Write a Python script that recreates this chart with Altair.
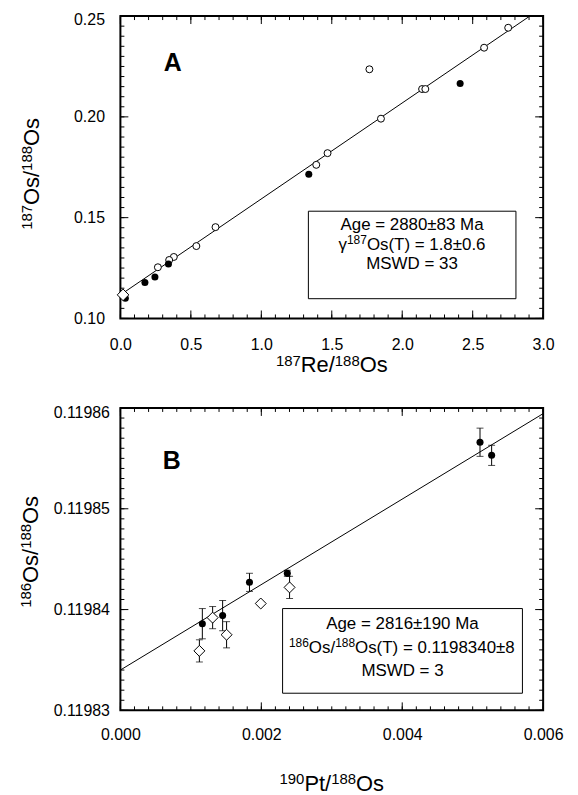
import altair as alt
import pandas as pd

FONT = "Liberation Sans"

# ---------------- Panel A data ----------------
a_open_x = [2.752, 2.581, 1.767, 2.141, 2.164, 1.849, 1.470, 1.390, 0.675, 0.539, 0.379, 0.346, 0.266]
a_open_y = [0.2442, 0.2343, 0.2236, 0.2138, 0.2138, 0.1991, 0.1820, 0.1762, 0.1453, 0.1359, 0.1305, 0.1290, 0.1254]
a_fill_x = [2.411, 1.337, 0.341, 0.245, 0.174, 0.035]
a_fill_y = [0.2166, 0.1715, 0.1270, 0.1206, 0.1178, 0.1100]
a_dia_x = [0.019]
a_dia_y = [0.1117]
a_intercept = 0.1117
a_slope = 0.0476
a_xdom = [0.0, 3.0]
a_ydom = [0.10, 0.25]
a_x_major = [0.0, 0.5, 1.0, 1.5, 2.0, 2.5, 3.0]
a_x_minor = [round(i * 0.1, 4) for i in range(31)]
a_y_major = [0.10, 0.15, 0.20, 0.25]
a_y_minor = [round(0.10 + i * 0.005, 4) for i in range(31)]
a_box = [1.334, 2.807, 0.1098, 0.1532]
a_text = [[("Age = 2880±83 Ma", False)],
          [("γ", False), ("187", True), ("Os(T) = 1.8±0.6", False)],
          [("MSWD = 33", False)]]
a_text_x = [2.07, 2.07, 2.07]
a_text_y = [0.1466, 0.1369, 0.1276]
a_label = ["A"]
a_label_x = [0.372]
a_label_y = [0.2265]
a_xtitle = [("187", True), ("Re/", False), ("188", True), ("Os", False)]
a_ytitle = [("187", True), ("Os/", False), ("188", True), ("Os", False)]

# ---------------- Panel B data ----------------
b_fill_x = [0.005104, 0.005269, 0.002369, 0.001832, 0.001451, 0.001163]
b_fill_y = [0.1198566, 0.1198553, 0.1198436, 0.1198427, 0.1198394, 0.1198386]
b_fill_err = [0.0000014, 0.0000010, 0.0000003, 0.0000009, 0.0000015, 0.0000015]
b_dia_x = [0.002401, 0.001992, 0.001309, 0.001507, 0.001121]
b_dia_y = [0.1198422, 0.1198406, 0.1198392, 0.1198375, 0.1198359]
b_dia_err = [0.0000011, 0.0, 0.0000011, 0.0000013, 0.0000011]
b_intercept = 0.1198340
b_slope = 0.00424
b_xdom = [0.0, 0.006]
b_ydom = [0.11983, 0.11986]
b_x_major = [0.0, 0.002, 0.004, 0.006]
b_x_minor = [round(i * 0.0002, 6) for i in range(31)]
b_y_major = [0.11983, 0.11984, 0.11985, 0.11986]
b_y_minor = [round(0.11983 + i * 0.000001, 7) for i in range(31)]
b_box = [0.002302, 0.005706, 0.1198317, 0.1198401]
b_text = [[("Age = 2816±190 Ma", False)],
          [("186", True), ("Os/", False), ("188", True), ("Os(T) = 0.1198340±8", False)],
          [("MSWD = 3", False)]]
b_text_x = [0.004004, 0.004004, 0.004004]
b_text_y = [0.1198387, 0.1198363, 0.1198340]
b_label = ["B"]
b_label_x = [0.00073]
b_label_y = [0.1198547]
b_xtitle = [("190", True), ("Pt/", False), ("188", True), ("Os", False)]
b_ytitle = [("186", True), ("Os/", False), ("188", True), ("Os", False)]

W, H = 425, 304
MAIN, SUP, RAISE = 22, 15, 6.5
LMAIN, LSUP, LRAISE = 17, 12, 6
ADV = {"0": .556, "1": .556, "2": .556, "3": .556, "4": .556, "5": .556, "6": .556,
       "7": .556, "8": .556, "9": .556, "R": .722, "e": .556, "/": .278, "O": .778,
       "s": .5, "P": .667, "t": .278, "γ": .5, "(": .333, ")": .333, "T": .611,
       " ": .278, "=": .584, ".": .278, "±": .549, "A": .667, "g": .556, "M": .833,
       "a": .556, "S": .667, "W": .944, "D": .722}


def piece_widths(parts, main, sup):
    sizes = [sup if s else main for _, s in parts]
    widths = [sum(ADV.get(c, .556) for c in t) * sz for (t, _), sz in zip(parts, sizes)]
    return sizes, widths


def title_layers(parts, center, base, vertical):
    sizes, widths = piece_widths(parts, MAIN, SUP)
    total = sum(widths)
    out = []
    off = 0.0
    for (t, sup), sz, w in zip(parts, sizes, widths):
        r = RAISE if sup else 0.0
        if vertical:
            mk = alt.Chart(pd.DataFrame({"t": [t]})).mark_text(
                font=FONT, fontSize=sz, color="black", align="left", baseline="alphabetic", angle=270)
            out.append(mk.encode(text="t:N", x=alt.value(base - r), y=alt.value(center + total / 2 - off)))
        else:
            mk = alt.Chart(pd.DataFrame({"t": [t]})).mark_text(
                font=FONT, fontSize=sz, color="black", align="left", baseline="alphabetic")
            out.append(mk.encode(text="t:N", x=alt.value(center - total / 2 + off), y=alt.value(base - r)))
        off += w
    return out


def legend_layers(lines, xs_, ys_, X, Y):
    out = []
    for parts, xv, yv in zip(lines, xs_, ys_):
        sizes, widths = piece_widths(parts, LMAIN, LSUP)
        total = sum(widths)
        off = 0.0
        for (t, sup), sz, w in zip(parts, sizes, widths):
            dy = (6 - LRAISE) if sup else 6
            d = pd.DataFrame({"t": [t], "x": [xv], "y": [yv]})
            out.append(alt.Chart(d).mark_text(font=FONT, fontSize=sz, color="black", align="left",
                                              baseline="alphabetic", dx=-total / 2 + off, dy=dy)
                       .encode(x=X("x"), y=Y("y"), text="t:N"))
            off += w
    return out


def tick_layers(X, Y, xmaj, xmin, ymaj, ymin):
    out = []
    for vals, L in [(xmin, 4), (xmaj, 8)]:
        d = pd.DataFrame({"v": vals})
        out.append(alt.Chart(d).mark_rule(color="black", strokeWidth=1)
                   .encode(x=X("v"), y=alt.value(H), y2=alt.value(H - L)))
        out.append(alt.Chart(d).mark_rule(color="black", strokeWidth=1)
                   .encode(x=X("v"), y=alt.value(0), y2=alt.value(L)))
    for vals, L in [(ymin, 4), (ymaj, 8)]:
        d = pd.DataFrame({"v": vals})
        out.append(alt.Chart(d).mark_rule(color="black", strokeWidth=1)
                   .encode(y=Y("v"), x=alt.value(0), x2=alt.value(L)))
        out.append(alt.Chart(d).mark_rule(color="black", strokeWidth=1)
                   .encode(y=Y("v"), x=alt.value(W), x2=alt.value(W - L)))
    return out


def panel(xdom, ydom, xaxis, yaxis, intercept, slope, fills, opens, dias,
          box, texts, tx, ty, lab, lx, ly, xmaj, xmin, ymaj, ymin, dia_size,
          xtitle, xt_base, ytitle, yt_center, yt_base, errs=None):
    xs = alt.Scale(domain=xdom, zero=False, nice=False)
    ys = alt.Scale(domain=ydom, zero=False, nice=False)
    X = lambda f: alt.X(f + ":Q", scale=xs, axis=xaxis)
    Y = lambda f: alt.Y(f + ":Q", scale=ys, axis=yaxis)
    # regression line
    x_end = min(xdom[1], (ydom[1] - intercept) / slope)
    line_df = pd.DataFrame({"x": [xdom[0], x_end],
                            "y": [intercept + slope * xdom[0], intercept + slope * x_end]})
    layers = [alt.Chart(line_df).mark_line(color="black", strokeWidth=1).encode(x=X("x"), y=Y("y"))]
    layers += tick_layers(X, Y, xmaj, xmin, ymaj, ymin)
    if errs is not None:
        edf = pd.DataFrame(errs)
        edf = edf[edf["e"] > 0].copy()
        edf["lo"] = edf["y"] - edf["e"]
        edf["hi"] = edf["y"] + edf["e"]
        layers.append(alt.Chart(edf).mark_rule(color="black", strokeWidth=1).encode(
            x=X("x"), y=Y("lo"), y2="hi:Q"))
        layers.append(alt.Chart(edf).mark_tick(color="black", thickness=1, size=7, orient="horizontal").encode(
            x=X("x"), y=Y("lo")))
        layers.append(alt.Chart(edf).mark_tick(color="black", thickness=1, size=7, orient="horizontal").encode(
            x=X("x"), y=Y("hi")))
    # box
    bdf = pd.DataFrame({"x1": [box[0]], "x2": [box[1]], "y1": [box[2]], "y2": [box[3]]})
    layers.append(alt.Chart(bdf).mark_rect(fill="white", stroke="black", strokeWidth=1).encode(
        x=X("x1"), x2="x2:Q", y=Y("y1"), y2="y2:Q"))
    layers += legend_layers(texts, tx, ty, X, Y)
    ldf = pd.DataFrame({"t": lab, "x": lx, "y": ly})
    layers.append(alt.Chart(ldf).mark_text(font=FONT, fontSize=25, fontWeight="bold", color="black",
                                           align="center", baseline="middle").encode(
        x=X("x"), y=Y("y"), text="t:N"))
    # markers
    odf = pd.DataFrame({"x": opens[0], "y": opens[1]})
    if len(odf):
        layers.append(alt.Chart(odf).mark_point(shape="circle", fill="white", fillOpacity=1, opacity=1,
                                                stroke="black", strokeWidth=1, size=49).encode(
            x=X("x"), y=Y("y")))
    fdf = pd.DataFrame({"x": fills[0], "y": fills[1]})
    layers.append(alt.Chart(fdf).mark_point(shape="circle", filled=True, color="black", opacity=1,
                                            size=50).encode(x=X("x"), y=Y("y")))
    ddf = pd.DataFrame({"x": dias[0], "y": dias[1]})
    layers.append(alt.Chart(ddf).mark_point(shape="diamond", fill="white", fillOpacity=1, opacity=1,
                                            stroke="black", strokeWidth=1, size=dia_size).encode(
        x=X("x"), y=Y("y")))
    # axis titles with real superscripts
    layers += title_layers(xtitle, W / 2, xt_base, False)
    layers += title_layers(ytitle, yt_center, yt_base, True)
    return alt.layer(*layers).properties(width=W, height=H)


common = dict(domain=False, ticks=False, tickSize=0, grid=False, labelFontSize=16,
              labelFont=FONT, labelColor="black", labelFlush=False, title=None)

axA_x = alt.Axis(values=a_x_major, format=".1f", labelPadding=18, **common)
axA_y = alt.Axis(values=a_y_major, format=".2f", labelPadding=16,
                 labelOffset={"condition": {"test": "datum.value > 0.2499", "value": 3}, "value": 0},
                 **common)
axB_x = alt.Axis(values=b_x_major, format=".3f", labelPadding=16, **common)
axB_y = alt.Axis(values=b_y_major, format=".5f", labelPadding=11,
                 labelOffset={"condition": {"test": "datum.value > 0.1198599", "value": 5}, "value": 0},
                 **common)

pA = panel(a_xdom, a_ydom, axA_x, axA_y, a_intercept, a_slope,
           (a_fill_x, a_fill_y), (a_open_x, a_open_y), (a_dia_x, a_dia_y),
           a_box, a_text, a_text_x, a_text_y, a_label, a_label_x, a_label_y,
           a_x_major, a_x_minor, a_y_major, a_y_minor, 136,
           a_xtitle, H + 54, a_ytitle, 158.7, -82)

errs_B = {"x": b_fill_x + b_dia_x, "y": b_fill_y + b_dia_y, "e": b_fill_err + b_dia_err}
pB = panel(b_xdom, b_ydom, axB_x, axB_y, b_intercept, b_slope,
           (b_fill_x, b_fill_y), ([], []), (b_dia_x, b_dia_y),
           b_box, b_text, b_text_x, b_text_y, b_label, b_label_x, b_label_y,
           b_x_major, b_x_minor, b_y_major, b_y_minor, 121,
           b_xtitle, H + 81, b_ytitle, 144.7, -83, errs=errs_B)

chart = alt.vconcat(pA, pB, spacing=27).properties(
    padding={"left": 10, "top": 0, "right": 5, "bottom": 0},
    background="white",
).configure_view(stroke="black", strokeWidth=2)

chart.save("out.html", embed_options={"renderer": "svg", "actions": False})
